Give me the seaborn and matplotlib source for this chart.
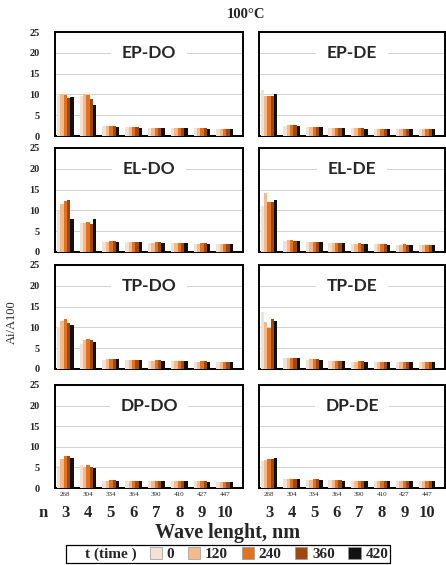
import matplotlib
matplotlib.use("Agg")
import matplotlib.pyplot as plt
import matplotlib.transforms as mtransforms
from matplotlib.patches import Patch
import numpy as np
import pandas as pd
import seaborn as sns

# ---------------- data ----------------
times = [0, 120, 240, 360, 420]
n_values = [3, 4, 5, 6, 7, 8, 9, 10]
wavelengths = [268, 304, 334, 364, 390, 410, 427, 447]
panel_names = ["EP-DO", "EP-DE", "EL-DO", "EL-DE", "TP-DO", "TP-DE", "DP-DO", "DP-DE"]

# each row: one time (0,120,240,360,420), values for n = 3..10
ep_do = [[10.0, 9.5, 2.3, 2.1, 2.0, 2.0, 1.9, 1.8],
         [10.0, 10.0, 2.3, 2.1, 2.0, 2.0, 1.9, 1.8],
         [9.8, 9.8, 2.3, 2.1, 2.0, 2.0, 1.9, 1.8],
         [9.2, 9.0, 2.3, 2.1, 2.0, 1.9, 1.9, 1.8],
         [9.3, 7.5, 2.2, 2.0, 1.9, 1.9, 1.8, 1.7]]
ep_de = [[11.0, 2.5, 2.2, 2.0, 1.9, 1.8, 1.8, 1.7],
         [9.5, 2.6, 2.2, 2.0, 1.9, 1.8, 1.8, 1.7],
         [9.5, 2.6, 2.2, 2.0, 1.9, 1.8, 1.8, 1.7],
         [9.6, 2.6, 2.2, 2.0, 1.9, 1.8, 1.8, 1.7],
         [10.0, 2.5, 2.1, 1.9, 1.8, 1.8, 1.7, 1.7]]
el_do = [[10.0, 7.0, 2.5, 2.4, 2.2, 2.1, 2.0, 1.9],
         [11.5, 7.0, 2.5, 2.4, 2.2, 2.1, 2.0, 1.9],
         [12.2, 7.2, 2.6, 2.5, 2.3, 2.2, 2.1, 2.0],
         [12.4, 6.8, 2.6, 2.5, 2.3, 2.2, 2.1, 2.0],
         [8.0, 8.0, 2.5, 2.4, 2.2, 2.1, 2.0, 1.9]]
el_de = [[11.0, 2.6, 2.3, 2.1, 1.9, 1.9, 1.8, 1.8],
         [14.3, 3.0, 2.5, 2.2, 2.0, 1.9, 1.8, 1.8],
         [12.0, 2.9, 2.5, 2.2, 2.1, 2.0, 1.9, 1.8],
         [12.0, 2.7, 2.4, 2.2, 2.0, 1.9, 1.8, 1.8],
         [12.4, 2.6, 2.3, 2.1, 1.9, 1.8, 1.8, 1.7]]
tp_do = [[10.0, 6.0, 2.2, 2.1, 2.0, 1.9, 1.8, 1.8],
         [11.5, 7.0, 2.3, 2.1, 2.0, 1.9, 1.8, 1.8],
         [12.0, 7.3, 2.4, 2.2, 2.1, 2.0, 1.9, 1.8],
         [11.0, 7.0, 2.4, 2.2, 2.1, 2.0, 1.9, 1.8],
         [10.6, 6.6, 2.3, 2.1, 2.0, 1.9, 1.8, 1.7]]
tp_de = [[13.7, 2.6, 2.2, 2.0, 1.8, 1.7, 1.7, 1.6],
         [11.3, 2.7, 2.3, 2.0, 1.8, 1.7, 1.7, 1.6],
         [9.8, 2.7, 2.3, 2.0, 1.9, 1.8, 1.7, 1.6],
         [12.0, 2.7, 2.3, 2.0, 1.9, 1.8, 1.7, 1.6],
         [11.6, 2.6, 2.2, 1.9, 1.8, 1.7, 1.6, 1.6]]
dp_do = [[5.3, 5.5, 1.8, 1.8, 1.7, 1.6, 1.6, 1.5],
         [7.0, 5.2, 1.8, 1.8, 1.7, 1.6, 1.6, 1.5],
         [7.8, 5.5, 1.9, 1.8, 1.7, 1.7, 1.6, 1.5],
         [7.8, 5.2, 1.9, 1.8, 1.7, 1.7, 1.6, 1.5],
         [7.4, 4.8, 1.8, 1.7, 1.7, 1.6, 1.5, 1.5]]
dp_de = [[6.5, 2.2, 2.0, 1.9, 1.8, 1.7, 1.7, 1.6],
         [6.8, 2.3, 2.0, 1.9, 1.8, 1.7, 1.7, 1.6],
         [7.0, 2.3, 2.1, 1.9, 1.8, 1.8, 1.7, 1.6],
         [7.0, 2.3, 2.1, 1.9, 1.8, 1.8, 1.7, 1.6],
         [7.2, 2.2, 2.0, 1.8, 1.8, 1.7, 1.6, 1.6]]

panel_values = [ep_do, ep_de, el_do, el_de, tp_do, tp_de, dp_do, dp_de]

colors = ["#f3e2d3", "#f5b98c", "#e3711d", "#9c4813", "#111111"]

# ---------------- style ----------------
sns.set_theme(style="white")
plt.rcParams["font.family"] = ["Liberation Serif", "DejaVu Serif"]

W, H = 446, 565
fig = plt.figure(figsize=(W / 100, H / 100), dpi=100)

col_x = [(55, 243), (259, 445)]
row_y = [(32, 136), (148, 252), (265, 369), (385, 488)]

order = [str(n) for n in n_values]
hue_order = [str(t) for t in times]

for idx, (name, vals) in enumerate(zip(panel_names, panel_values)):
    r, c = divmod(idx, 2)
    x0, x1 = col_x[c]
    y0, y1 = row_y[r]
    ax = fig.add_axes([x0 / W, 1 - y1 / H, (x1 - x0) / W, (y1 - y0) / H])

    df = pd.DataFrame(
        [(str(n), str(t), vals[ti][ni])
         for ti, t in enumerate(times) for ni, n in enumerate(n_values)],
        columns=["n", "t", "value"])
    sns.barplot(data=df, x="n", y="value", hue="t", order=order,
                hue_order=hue_order, palette=colors, saturation=1,
                width=0.74, gap=0, edgecolor="none", legend=False, ax=ax,
                zorder=3)

    ax.set_xlim(-0.45, 7.8)
    ax.set_ylim(0, 25)
    ax.set_yticks([0, 5, 10, 15, 20, 25])
    ax.yaxis.grid(True, color="#d2d2d2", linewidth=0.7, zorder=0)
    ax.set_axisbelow(True)
    ax.set_xlabel("")
    ax.set_ylabel("")
    for sp in ax.spines.values():
        sp.set_visible(True)
        sp.set_color("black")
        sp.set_linewidth(1.4)

    ax.tick_params(axis="y", length=2, color="#aaaaaa", width=0.6, pad=9)
    if c == 0:
        ax.set_yticklabels([str(v) for v in [0, 5, 10, 15, 20, 25]],
                           fontsize=7.5, fontweight="bold")
    else:
        ax.set_yticklabels([])

    ax.tick_params(axis="x", length=0, pad=3)
    if r == 3:
        ax.set_xticklabels([str(w) for w in wavelengths], fontsize=5)
        trans = mtransforms.blended_transform_factory(ax.transData, ax.transAxes)
        for i, n in enumerate(n_values):
            ax.text(i, -0.245, str(n), transform=trans, ha="center", va="center",
                    fontsize=12, fontweight="bold")
    else:
        ax.set_xticklabels([])

    ttrans = mtransforms.blended_transform_factory(ax.transAxes, ax.transData)
    ax.text(0.5, 20, name, transform=ttrans, ha="center", va="center",
            fontsize=12.5, fontweight="bold", family=["Lato", "DejaVu Sans"],
            zorder=5,
            bbox=dict(boxstyle="square,pad=0.6", facecolor="white",
                      edgecolor="none"))

# figure texts
fig.text(246 / W, 1 - 15 / H, "100°C", ha="center", va="center",
         fontsize=10.5, fontweight="bold")
fig.text(12 / W, 1 - 322 / H, "Ai/A100", ha="center", va="center",
         rotation=90, fontsize=9)
fig.text(43 / W, 1 - 513 / H, "n", ha="center", va="center",
         fontsize=12, fontweight="bold")
fig.text(228 / W, 1 - 533 / H, "Wave lenght, nm", ha="center", va="center",
         fontsize=14.5, fontweight="bold")

handles = [Patch(facecolor="none", edgecolor="none", label="t (time )")]
for t, col in zip(times, colors):
    handles.append(Patch(facecolor=col, edgecolor="#999999", linewidth=0.5,
                         label=str(t)))
leg = fig.legend(handles=handles, loc="center", ncol=6,
                 bbox_to_anchor=(228 / W, 1 - 554 / H), frameon=True,
                 fancybox=False, edgecolor="black", framealpha=1,
                 prop=dict(family="Liberation Serif", weight="bold", size=11),
                 handlelength=0.8, handleheight=0.8, handletextpad=0.3,
                 columnspacing=0.9, borderpad=0.15)
leg.get_frame().set_linewidth(0.9)

fig.savefig("out.png", dpi=100, facecolor="white")
